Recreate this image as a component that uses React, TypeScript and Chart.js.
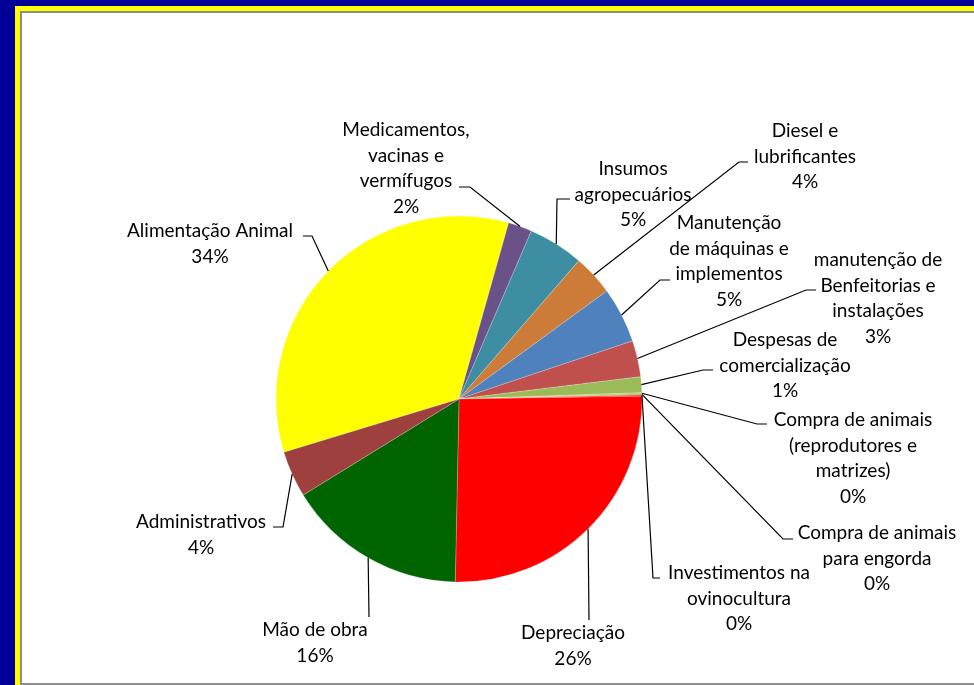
import React, { useEffect, useRef } from "react";
import { Chart, registerables } from "chart.js";

Chart.register(...registerables);

// ---- data ----
const categories: string[][] = [
  ["Alimentação Animal"],
  ["Medicamentos,", "vacinas e", "vermífugos"],
  ["Insumos", "agropecuários"],
  ["Diesel e", "lubrificantes"],
  ["Manutenção", "de máquinas e", "implementos"],
  ["manutenção de", "Benfeitorias e", "instalações"],
  ["Despesas de", "comercialização"],
  ["Compra de animais", "(reprodutores e", "matrizes)"],
  ["Compra de animais", "para engorda"],
  ["Investimentos na", "ovinocultura"],
  ["Depreciação"],
  ["Mão de obra"],
  ["Administrativos"],
];
const values: number[] = [34.1, 2.1, 4.9, 3.6, 4.9, 3.2, 1.4, 0.1, 0.1, 0.1, 25.6, 15.9, 4.1];
const colors: string[] = [
  "#FFFF00", "#6A5289", "#3E8EA3", "#CC7B38", "#4F81BD", "#C0504D", "#9BBB59",
  "#9BBB59", "#9BBB59", "#FF0000", "#FF0000", "#006400", "#9E413E",
];

// ---- label layout (page/canvas pixels) ----
const labelCenterX: number[] = [210, 406, 633, 805, 729, 878, 785, 853, 877, 739, 573, 315, 201];
const labelFirstY: number[] = [231, 130, 169, 131, 223, 260, 340, 420, 533, 573, 633, 630, 522];
const leaderElbow: number[][] = [
  [312, 236], [470, 187], [557, 199], [739, 162], [660, 280], [806, 290], [703, 370],
  [757, 424], [783, 539], [653, 578], [589, 620], [369, 617], [283, 527],
];
const leaderEnd: number[][] = [
  [303, 236], [459, 187], [570, 199], [748, 162], [670, 280], [816, 290], [713, 370],
  [767, 424], [793, 539], [660, 578], [589, 620], [369, 617], [273, 527],
];
const LINE_H = 25.5;
const FONT = "19px Lato";

const labelPlugin = {
  id: "pieLabels",
  afterDatasetsDraw(chart: any) {
    const ctx = chart.ctx as CanvasRenderingContext2D;
    const meta = chart.getDatasetMeta(0);
    const data = chart.data.datasets[0].data as number[];
    const total = data.reduce((a, b) => a + b, 0);
    ctx.save();
    meta.data.forEach((arc: any, i: number) => {
      const mid = (arc.startAngle + arc.endAngle) / 2;
      const sx = arc.x + Math.cos(mid) * arc.outerRadius;
      const sy = arc.y + Math.sin(mid) * arc.outerRadius;
      ctx.strokeStyle = "#000";
      ctx.lineWidth = 1.2;
      ctx.beginPath();
      ctx.moveTo(sx, sy);
      ctx.lineTo(leaderElbow[i][0], leaderElbow[i][1]);
      ctx.lineTo(leaderEnd[i][0], leaderEnd[i][1]);
      ctx.stroke();
      const lines = [...categories[i], Math.round((data[i] / total) * 100) + "%"];
      ctx.fillStyle = "#000";
      ctx.font = FONT;
      ctx.textAlign = "center";
      ctx.textBaseline = "middle";
      lines.forEach((t, k) => {
        ctx.fillText(t, labelCenterX[i], labelFirstY[i] + k * LINE_H);
      });
    });
    ctx.restore();
  },
};

export default function App() {
  const ref = useRef<HTMLCanvasElement>(null);
  useEffect(() => {
    const chart = new Chart(ref.current!, {
      type: "pie",
      data: {
        labels: categories.map((c) => c.join(" ")),
        datasets: [
          {
            data: values,
            backgroundColor: colors,
            borderColor: "rgba(255,255,255,0.35)",
            borderWidth: 0.6,
          },
        ],
      },
      options: {
        animation: false,
        responsive: false,
        devicePixelRatio: 1,
        rotation: 253.1,
        radius: 183,
        layout: { padding: { left: 100, right: 156, top: 200, bottom: 87 } },
        plugins: { legend: { display: false }, tooltip: { enabled: false } },
      },
      plugins: [labelPlugin],
    });
    return () => chart.destroy();
  }, []);
  return (
    <div style={{ position: "fixed", left: 0, top: 0, width: 974, height: 685, background: "#000099", overflow: "hidden" }}>
      <div style={{ position: "absolute", left: 15, top: 6, right: -10, bottom: -10, background: "#FFFF00" }} />
      <div
        style={{
          position: "absolute", left: 20, top: 11, right: -10, bottom: 0,
          background: "#fff", border: "2px solid #8e8e8e", boxSizing: "border-box",
        }}
      />
      <canvas ref={ref} width={974} height={685} style={{ position: "absolute", left: 0, top: 0 }} />
    </div>
  );
}
